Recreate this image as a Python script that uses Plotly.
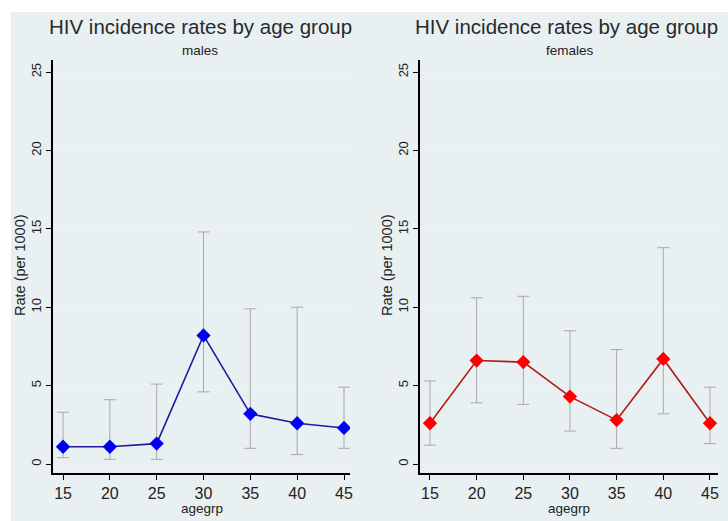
import plotly.graph_objects as go

agegrp = [15, 20, 25, 30, 35, 40, 45]
male_rate = [1.1, 1.1, 1.3, 8.2, 3.2, 2.6, 2.3]
male_lo = [0.4, 0.3, 0.3, 4.6, 1.0, 0.6, 1.0]
male_hi = [3.3, 4.1, 5.1, 14.8, 9.9, 10.0, 4.9]
female_rate = [2.6, 6.6, 6.5, 4.3, 2.8, 6.7, 2.6]
female_lo = [1.2, 3.9, 3.8, 2.1, 1.0, 3.2, 1.3]
female_hi = [5.3, 10.6, 10.7, 8.5, 7.3, 13.8, 4.9]
y_ticks = [0, 5, 10, 15, 20, 25]
x_ticks = [15, 20, 25, 30, 35, 40, 45]
title_text = "HIV incidence rates by age group"
subtitles = ["males", "females"]

W, H = 728, 521
BG = "#e9f0f2"
FONT = "Liberation Sans, Arial, sans-serif"

fig = go.Figure()

def add_panel(rate, lo, hi, xa, ya, mcolor, lcolor):
    fig.add_trace(go.Scatter(
        x=agegrp, y=rate, xaxis=xa, yaxis=ya, mode="lines+markers",
        line=dict(color=lcolor, width=1.6),
        marker=dict(symbol="diamond", size=11, color=mcolor, line=dict(width=0)),
        error_y=dict(type="data", symmetric=False,
                     array=[h - r for h, r in zip(hi, rate)],
                     arrayminus=[r - l for r, l in zip(rate, lo)],
                     color="#a8a8a8", thickness=1, width=6),
        showlegend=False,
    ))

add_panel(male_rate, male_lo, male_hi, "x", "y", "#0000ee", "#1c1c9c")
add_panel(female_rate, female_lo, female_hi, "x2", "y2", "#ff0000", "#b01c1c")

ydom = [(H - 473) / H, (H - 60) / H]
xdoms = [[53 / W, 350 / W], [420 / W, 718 / W]]
xranges = [[13.93, 45.64], [13.93, 45.86]]

axis_common = dict(showline=True, linecolor="black", linewidth=1.5, ticks="outside",
                   ticklen=5, tickcolor="black", tickwidth=1, zeroline=False,
                   automargin=False)

for i in range(2):
    sx = "" if i == 0 else "2"
    fig.layout["xaxis" + sx] = dict(domain=xdoms[i], range=xranges[i], tickvals=x_ticks,
                                     showgrid=False, anchor="y" + sx,
                                     tickfont=dict(family=FONT, size=16, color="#222"),
                                     ticklabelstandoff=0, **axis_common)
    fig.layout["yaxis" + sx] = dict(domain=ydom, range=[-0.574, 25.77], tickvals=y_ticks,
                                     tickangle=-90, showgrid=True, gridcolor="#eef2f2",
                                     gridwidth=1, anchor="x" + sx,
                                     tickfont=dict(family=FONT, size=13, color="#222"),
                                     ticklabelstandoff=0, **axis_common)

annotations = []
centers = [200 / W, 566 / W]
for i in range(2):
    cx = centers[i]
    annotations.append(dict(text=title_text, x=cx, y=(H - 27) / H, xref="paper", yref="paper",
                            showarrow=False, xanchor="center", yanchor="middle",
                            font=dict(family=FONT, size=20.5, color="#2a2a2a")))
    annotations.append(dict(text=subtitles[i], x=cx + (0 if i == 0 else 4 / W), y=(H - 50) / H,
                            xref="paper", yref="paper", showarrow=False,
                            xanchor="center", yanchor="middle",
                            font=dict(family=FONT, size=13.5, color="#222")))
    annotations.append(dict(text="agegrp", x=[202, 569][i] / W, y=(H - 508) / H,
                            xref="paper", yref="paper",
                            showarrow=False, xanchor="center", yanchor="middle",
                            font=dict(family=FONT, size=13.5, color="#222")))
    yx = [20, 387][i]
    annotations.append(dict(text="Rate (per 1000)", x=yx / W, y=(H - 265) / H, xref="paper",
                            yref="paper", showarrow=False, textangle=-90,
                            xanchor="center", yanchor="middle",
                            font=dict(family=FONT, size=14.5, color="#222")))

shapes = [dict(type="rect", xref="paper", yref="paper", x0=11 / W, x1=1, y0=0, y1=(H - 12) / H,
               fillcolor=BG, line=dict(width=0), layer="below")]

fig.update_layout(width=W, height=H, margin=dict(l=0, r=0, t=0, b=0),
                  paper_bgcolor="white", plot_bgcolor="white",
                  annotations=annotations, shapes=shapes)

fig.write_html("out.html", config={"displayModeBar": False},
               post_script="document.body.style.margin='0';")
